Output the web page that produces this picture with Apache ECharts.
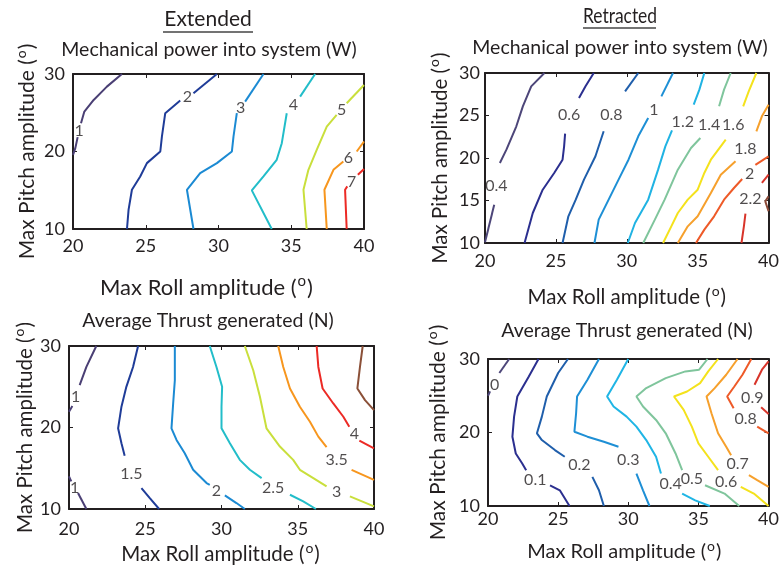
<!DOCTYPE html>
<html><head><meta charset="utf-8">
<script src="https://cdn.jsdelivr.net/npm/echarts@6/dist/echarts.min.js"></script>
<style>html,body{margin:0;padding:0;background:#fff}#c{width:782px;height:569px}</style>
</head><body><div id="c"></div>
<script>
// ---------- tick labels ----------
const xTicksAll = [20, 25, 30, 35, 40];
const yTicksCoarse = [10, 20, 30];
const yTicksFine = [10, 15, 20, 25, 30];

// ---------- Panel 1: Extended, mechanical power (W) ----------
const extPowerLevels = ['1', '2', '3', '4', '5', '6', '7'];
const extPowerSegments = [
  [[[20,19.57],[20.16,20.43],[20.32,21.85]], [[20.55,23.65],[20.78,25.15],[21.42,26.65],[22.33,28.37],[23.36,30]]],
  [[[23.71,10],[23.82,12.49],[24.05,15.06],[24.62,16.78],[25.08,18.5],[26.0,20.0],[26.11,21.93],[26.34,24.94],[27.37,26.57]], [[28.28,27.51],[29.89,30]]],
  [[[28.28,10],[27.83,15.06],[28.74,17.21],[29.89,18.5],[30.92,20.0],[31.03,21.93],[31.26,24.94]], [[31.83,26.44],[33.09,30]]],
  [[[33.66,10],[32.29,14.98],[33.09,16.78],[34.0,18.93],[34.35,21.07],[34.69,24.94]], [[35.61,27.08],[36.64,30]]],
  [[[36.06,10],[35.84,15.06],[36.18,17.64],[36.75,20.21],[37.44,23.22],[38.12,24.72]], [[38.81,26.22],[40,28.58]]],
  [[[37.44,10],[37.28,15.06],[37.9,17.64],[38.58,18.71]], [[39.5,20.0],[40,21.29]]],
  [[[38.81,10],[38.7,15.06],[38.85,15.5]], [[39.58,17.0],[40,17.73]]]
];
const extPowerLabelPos = [[20.43,22.7],[27.87,27.08],[31.53,25.58],[35.15,26.0],[38.47,25.36],[38.93,19.14],[39.15,16.14]];

// ---------- Panel 2: Retracted, mechanical power (W) ----------
const retPowerLevels = ['0.4', '0.6', '0.8', '1', '1.2', '1.4', '1.6', '1.8', '2', '2.2', ''];
const retPowerSegments = [
  [[[20,10.1],[20.65,14.51]], [[21.05,19.41],[21.51,20.98],[22.21,23.73],[22.67,26.08],[23.26,28.43],[24.19,30]]],
  [[[22.79,10],[23.37,13.53],[24.07,16.27],[24.88,18.24],[25.47,19.8],[25.58,21.37],[25.65,22.86]], [[26.63,27.06],[27.09,28.43],[27.67,30]]],
  [[[25.47,10],[25.88,13.14],[26.4,15.1],[26.98,17.45],[27.79,20.2],[28.37,23.14]], [[29.88,27.84],[30.81,30]]],
  [[[27.72,10],[28.02,12.75],[28.72,15.1],[29.42,17.45],[30.12,19.8],[30.81,22.55],[31.51,24.71]], [[32.44,27.25],[33.26,30]]],
  [[[30.07,10],[30.58,12.35],[31.51,15.1],[32.21,18.63],[32.72,21.37],[33.19,23.25]], [[34.72,26.27],[35.12,28.04],[35.47,30]]],
  [[[31.16,10],[31.98,12.75],[32.67,15.1],[33.6,18.63],[34.53,21.18],[35.19,22.35]], [[36.51,26.08],[36.86,28.04],[37.33,30]]],
  [[[32.56,10],[33.14,11.96],[33.6,13.53],[34.3,15.1],[35.0,16.27],[35.47,18.24],[35.93,19.8],[36.98,22.16]], [[38.21,26.08],[38.6,27.84],[39.14,30]]],
  [[[33.6,10],[34.3,11.96],[35.0,13.14],[35.93,15.88],[36.63,18.04],[37.67,19.61]], [[39.14,23.14],[39.53,24.9],[40,26.27]]],
  [[[34.88,10],[35.47,11.57],[36.16,13.14],[36.86,15.1],[37.56,16.47],[38.14,17.53]], [[39.07,19.2],[40,20.2]]],
  [[[38.09,10],[38.26,11.96],[38.37,13.45]], [[39.53,17.06],[40,18.04]]],
  [[[40,15.49],[39.77,14.9],[40,13.73]]]
];
const retPowerLabelPos = [[20.81,16.75],[25.93,25.1],[28.91,25.1],[31.91,25.69],[33.95,24.31],[35.81,23.92],[37.51,23.92],[38.37,21.06],[38.67,18.16],[38.72,15.18],null];

// ---------- Panel 3: Extended, average thrust (N) ----------
const extThrustLevels = ['1', '1', '1.5', '2', '2.5', '3', '3.5', '4', ''];
const extThrustSegments = [
  [[[20,21.93],[20.22,22.63]], [[20.7,25.19],[21.14,27.43],[21.79,30]]],
  [[[20,14.0],[20.15,13.38]], [[20.59,11.96],[21.14,10]]],
  [[[24.53,30],[24.2,27.43],[23.76,24.99],[23.44,22.55],[23.22,19.9],[23.44,18.07],[23.65,16.52]], [[24.75,12.57],[25.3,11.34],[25.91,10]]],
  [[[26.94,30],[26.94,25.8],[26.83,22.95],[26.72,19.9],[27.05,18.47],[27.59,16.84],[28.14,14.81],[29.02,13.18],[29.23,12.97]], [[30.22,11.67],[30.98,10.73],[31.53,10]]],
  [[[29.23,30],[29.67,27.43],[30.04,24.99],[30.0,22.55],[30.0,19.9],[30.55,18.07],[31.2,16.03],[31.86,14.81],[32.63,13.79]], [[34.49,11.75],[35.36,10.94],[36.19,10]]],
  [[[31.53,30],[32.08,27.03],[32.52,23.77],[32.95,19.9],[33.83,17.66],[34.7,16.03],[35.14,14.81],[36.02,13.79],[36.89,12.77]], [[38.42,11.55],[40,10.33]]],
  [[[33.72,30],[34.05,27.43],[34.49,24.79],[35.14,22.55],[35.8,20.71],[36.35,18.88],[36.89,17.58]], [[38.53,14.81],[40,13.58]]],
  [[[36.24,30],[36.35,27.43],[36.63,24.79],[37.33,22.95],[37.99,21.32],[38.38,20.1]], [[39.04,18.39],[40,17.45]]],
  [[[39.26,30],[39.08,27.43],[38.91,24.79],[39.41,23.36],[40,22.14]]]
];
const extThrustLabelPos = [[20.44,23.77],[20.37,12.57],[24.09,14.32],[29.67,12.28],[33.39,12.57],[37.55,12.16],[37.55,16.03],[38.71,19.21],null];

// ---------- Panel 4: Retracted, average thrust (N) ----------
const retThrustLevels = ['0', '0.1', '0.2', '0.3', '0.4', '0.5', '0.6', '0.7', '0.8', '0.9'];
const retThrustSegments = [
  [[[20,25.0],[20.15,25.6]], [[20.81,28.09],[21.51,30]]],
  [[[23.6,30],[22.91,27.63],[22.09,24.9],[21.86,22.16],[21.74,19.43],[21.98,17.15],[22.44,15.79],[22.72,14.87]], [[24.42,12.82],[25.12,12.14],[25.81,10]]],
  [[[25.7,30],[25.0,28.09],[24.19,24.9],[23.84,22.16],[23.49,19.89],[23.84,18.97],[24.77,17.61],[25.47,16.7]], [[27.44,13.96],[27.91,12.14],[28.26,10]]],
  [[[27.91,30],[27.09,27.18],[26.35,24.9],[26.28,22.62],[26.16,20.11],[27.09,19.43],[28.26,18.75],[29.3,18.06]], [[30.58,14.42],[31.05,12.14],[31.51,10]]],
  [[[30.0,30],[29.19,27.18],[28.49,24.9],[28.95,23.53],[29.88,22.16],[30.58,20.8],[31.28,18.97],[31.98,16.7],[32.33,14.42]], [[33.84,11.69],[34.77,10.77],[35.81,10]]],
  [[[35.65,30],[35.05,28.54],[34.07,28.31],[32.67,27.4],[31.28,26.04],[30.58,24.9],[31.05,23.53],[31.98,21.71],[32.67,19.89],[33.37,17.15],[33.84,14.87]], [[35.47,12.82],[36.86,11.69],[37.91,10]]],
  [[[36.4,30],[35.7,28.31],[35.12,26.72],[34.19,25.58],[33.26,24.9],[33.95,23.08],[34.53,20.8],[35.0,18.52],[35.7,16.7],[36.4,14.87]], [[38.02,12.6],[38.95,11.69],[40,10]]],
  [[[37.79,30],[36.98,27.86],[36.16,26.04],[35.58,24.9],[35.93,22.62],[36.4,19.89],[36.98,18.06],[37.33,16.92]], [[38.6,14.19],[39.19,13.51],[40,12.6]]],
  [[[38.77,30],[38.14,27.86],[37.56,26.26],[37.05,24.9],[37.51,23.3]], [[39.19,20.8],[40,19.89]]],
  [[[40,29.68],[39.53,28.54],[39.0,26.49]], [[39.47,23.44],[40,22.53]]]
];
const retThrustLabelPos = [[20.47,26.49],[23.37,13.51],[26.51,15.56],[30.0,16.24],[33.02,13.05],[34.53,13.74],[36.98,13.28],[37.79,15.79],[38.37,21.8],[38.84,24.67]];

// ---------- colours (styles) ----------
const extPowerColors = ['#4a3f74','#1f3c98','#1b8ad3','#22bdc9','#c9df3c','#f7961e','#ec2a25'];
const retPowerColors = ['#4d4679','#2b2f8f','#1f5eab','#1d8fd5','#20b3e3','#7fc59c','#f4e21c','#f6a02c','#ee5a28','#d8342a','#8b4a38'];
const extThrustColors = ['#4a3f74','#4a3f74','#1f3c98','#1b8ad3','#22bdc9','#c9df3c','#f7961e','#ec2a25','#8b5038'];
const retThrustColors = ['#4d4679','#2b2f8f','#1f5eab','#1e8fd5','#1fb5e5','#7fc59c','#f4e21c','#f6a02c','#ee5a28','#d8342a'];

const FONT = 'Lato';
const INK = '#231f20';

const panels = [
  {grid:{left:73, top:74, width:291, height:155}, yInt:10, levels:extPowerLevels, segs:extPowerSegments, lab:extPowerLabelPos, cols:extPowerColors, xGap:45, yGap:33, xMargin:8, yMargin:8, xFs:22, yFs:21, xPad:24},
  {grid:{left:485, top:73, width:287, height:170}, yInt:5, levels:retPowerLevels, segs:retPowerSegments, lab:retPowerLabelPos, cols:retPowerColors, xGap:41, yGap:32, xMargin:9, yMargin:5, xFs:20.5, yFs:20.5, xPad:0},
  {grid:{left:69, top:346, width:305, height:163}, yInt:10, levels:extThrustLevels, segs:extThrustSegments, lab:extThrustLabelPos, cols:extThrustColors, xGap:32, yGap:29, xMargin:11, yMargin:8, xFs:20.5, yFs:20.5, xPad:2},
  {grid:{left:488, top:359, width:287, height:147}, yInt:10, levels:retThrustLevels, segs:retThrustSegments, lab:retThrustLabelPos, cols:retThrustColors, xGap:33, yGap:37, xMargin:4, yMargin:8, xFs:20, yFs:21, xPad:8}
];

const nameStyle = (fs, padR) => ({
  fontSize: fs, color: INK, fontFamily: FONT, padding: [0, padR || 0, 0, 0],
  rich: {
    t: {fontSize: fs, color: INK, fontFamily: FONT},
    s: {fontSize: Math.round(fs * 0.68), color: INK, fontFamily: FONT, padding: [0, 1, Math.round(fs * 0.58), 1]}
  }
});
const lineAx = {show: true, onZero: false, lineStyle: {color: INK, width: 2}};
const tickAx = {show: true, inside: true, length: 4, lineStyle: {color: INK, width: 1}};

const grids = [], xAxes = [], yAxes = [], series = [];
panels.forEach((P, p) => {
  grids.push(P.grid);
  xAxes.push({
    type: 'value', gridIndex: p, min: 20, max: 40, interval: 5, position: 'bottom',
    axisLine: lineAx, axisTick: tickAx, splitLine: {show: false},
    axisLabel: {fontSize: 18, color: INK, fontFamily: FONT, margin: P.xMargin, showMinLabel: true, showMaxLabel: true},
    name: '{t|Max Roll amplitude (}{s|o}{t|)}', nameLocation: 'middle', nameGap: P.xGap, nameTextStyle: nameStyle(P.xFs, P.xPad)
  });
  xAxes.push({
    type: 'value', gridIndex: p, min: 20, max: 40, interval: 5, position: 'top',
    axisLine: lineAx, axisTick: tickAx, splitLine: {show: false}, axisLabel: {show: false}
  });
  yAxes.push({
    type: 'value', gridIndex: p, min: 10, max: 30, interval: P.yInt, position: 'left',
    axisLine: lineAx, axisTick: tickAx, splitLine: {show: false},
    axisLabel: {fontSize: 18, color: INK, fontFamily: FONT, margin: P.yMargin, showMinLabel: true, showMaxLabel: true},
    name: '{t|Max Pitch amplitude (}{s|o}{t|)}', nameLocation: 'middle', nameGap: P.yGap, nameTextStyle: nameStyle(P.yFs, 0)
  });
  yAxes.push({
    type: 'value', gridIndex: p, min: 10, max: 30, interval: P.yInt, position: 'right',
    axisLine: lineAx, axisTick: tickAx, splitLine: {show: false}, axisLabel: {show: false}
  });
  P.segs.forEach((segList, i) => {
    segList.forEach(seg => {
      series.push({
        type: 'line', xAxisIndex: 2 * p, yAxisIndex: 2 * p, data: seg,
        symbol: 'none', smooth: false, silent: true, animation: false,
        lineStyle: {color: P.cols[i], width: 2}, z: 3
      });
    });
  });
  const labData = [];
  P.lab.forEach((pos, i) => { if (pos) labData.push({value: pos, name: P.levels[i]}); });
  series.push({
    type: 'scatter', xAxisIndex: 2 * p, yAxisIndex: 2 * p, data: labData,
    symbolSize: 1, itemStyle: {color: 'rgba(0,0,0,0)'}, silent: true, animation: false, z: 5,
    label: {show: true, position: 'inside', formatter: d => d.name, fontSize: 16, color: INK, fontFamily: FONT}
  });
});

const txt = (x, y, s, size, sx) => ({
  type: 'text', x: x, y: y, silent: true, scaleX: sx || 1,
  style: {text: s, fill: INK, font: size + 'px ' + FONT, align: 'center', verticalAlign: 'middle', textAlign: 'center', textVerticalAlign: 'middle'}
});
const graphic = [
  txt(208, 19, 'Extended', 21),
  {type: 'line', silent: true, shape: {x1: 163, y1: 32, x2: 253, y2: 32}, style: {stroke: '#444', lineWidth: 1.5}},
  txt(620, 16, 'Retracted', 21, 0.83),
  {type: 'line', silent: true, shape: {x1: 583, y1: 28, x2: 656, y2: 28}, style: {stroke: '#444', lineWidth: 1.5}},
  txt(209, 50, 'Mechanical power into system (W)', 19.5),
  txt(620, 48, 'Mechanical power into system (W)', 19.5),
  txt(208, 321, 'Average Thrust generated (N)', 19.5),
  txt(627, 331, 'Average Thrust generated (N)', 19.5)
];

const chart = echarts.init(document.getElementById('c'), null, {renderer: 'canvas'});
chart.setOption({
  animation: false,
  backgroundColor: '#fff',
  grid: grids, xAxis: xAxes, yAxis: yAxes, series: series, graphic: graphic
});
</script></body></html>
